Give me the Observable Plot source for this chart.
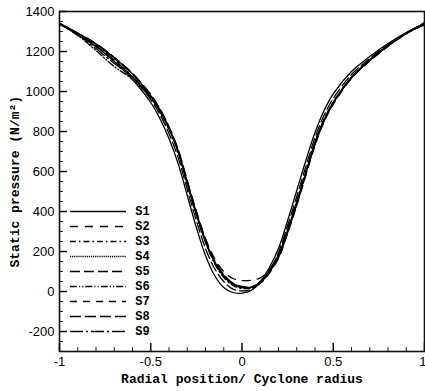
<!DOCTYPE html>
<html><head><meta charset="utf-8">
<script src="https://cdn.jsdelivr.net/npm/d3@7"></script>
<script src="https://cdn.jsdelivr.net/npm/@observablehq/plot@0.6"></script>
<style>body{margin:0;background:#fff}</style>
</head><body><div id="chart"></div>
<script>
const xs = [-1,-0.9,-0.8,-0.7,-0.6,-0.5,-0.45,-0.4,-0.35,-0.3,-0.25,-0.2,-0.15,-0.1,-0.05,0,0.05,0.1,0.15,0.2,0.25,0.3,0.35,0.4,0.45,0.5,0.6,0.7,0.8,0.9,1];
const S1 = [1340,1285,1225,1150,1060,945,865,765,640,480,320,180,80,20,-5,-8,5,50,120,215,355,505,655,795,905,988,1100,1175,1240,1295,1340];
const S2 = [1335,1290,1240,1170,1090,980,910,820,705,550,400,265,165,100,65,55,56,68,110,185,310,450,600,745,860,945,1070,1155,1228,1290,1345];
const S3 = [1340,1285,1225,1150,1075,970,900,810,695,535,380,245,140,70,30,15,18,45,100,182,312,452,600,748,862,948,1072,1158,1228,1290,1338];
const S4 = [1342,1292,1238,1168,1088,978,908,818,705,545,390,255,148,78,38,20,22,48,102,178,305,445,595,745,860,945,1072,1158,1230,1292,1342];
const S5 = [1340,1288,1230,1158,1072,960,885,790,670,510,355,215,115,50,12,3,10,42,105,195,330,475,625,770,882,965,1085,1165,1235,1292,1340];
const S6 = [1338,1280,1205,1125,1060,968,900,812,698,540,385,250,145,76,36,20,22,46,98,175,300,440,590,740,855,942,1068,1155,1228,1290,1332];
const S7 = [1340,1290,1235,1165,1085,978,908,818,702,545,392,255,150,80,40,22,20,40,92,165,290,430,580,730,848,935,1065,1152,1225,1288,1340];
const S8 = [1340,1292,1238,1170,1090,985,915,825,712,555,400,262,155,85,42,25,22,42,95,170,295,435,585,735,852,940,1068,1155,1228,1290,1338];
const S9 = [1338,1285,1215,1140,1070,972,902,814,700,542,388,252,147,77,37,19,21,44,97,172,298,440,590,740,856,944,1070,1156,1229,1291,1336];
const seriesNames = ["S1","S2","S3","S4","S5","S6","S7","S8","S9"];
const seriesValues = [S1,S2,S3,S4,S5,S6,S7,S8,S9];
const xTicks = [-1,-0.5,0,0.5,1];
const yTicks = [-200,0,200,400,600,800,1000,1200,1400];
const xTitle = "Radial position/ Cyclone radius";
const yTitle = "Static pressure (N/m\u00b2)";

// styles
const dashes = [null,"8,7","6,3,1.5,3","1.2,0.9","10,4","7,2,1.2,2,1.2,2","7,6","11,4","13,3,2,3"];
const W=425,H=391,mL=59,mR=1,mT=11,mB=40;
const plotW=W-mL-mR, plotH=H-mT-mB;
const yMinor = d3.range(-300,1401,50).filter(v=>v%200!==0);
const xMinor = d3.range(-10,11).map(i=>i/10).filter(v=>Math.abs(v*2-Math.round(v*2))>1e-9);
const mono = "Liberation Mono, Courier New, monospace";
const sans = "Liberation Sans, Arial, sans-serif";

const marks = [];
// ticks inward
marks.push(Plot.ruleY(yMinor,{y:d=>d,insetRight:plotW-4,stroke:"#222",strokeWidth:1}));
marks.push(Plot.ruleY(yTicks,{y:d=>d,insetRight:plotW-8,stroke:"#111",strokeWidth:1.5}));
marks.push(Plot.ruleX(xMinor,{x:d=>d,insetTop:plotH-4,stroke:"#222",strokeWidth:1}));
marks.push(Plot.ruleX(xTicks,{x:d=>d,insetTop:plotH-8,stroke:"#111",strokeWidth:1.5}));
// curves
seriesNames.forEach((name,i)=>{
  const data = xs.map((x,j)=>({x, y: seriesValues[i][j]}));
  marks.push(Plot.line(data,{x:"x",y:"y",curve:"catmull-rom",stroke:"#000",strokeWidth:1.3,strokeDasharray:dashes[i],clip:true}));
});
// legend
const legTop=400, legStep=75;
seriesNames.forEach((name,i)=>{
  const ly = legTop - legStep*i;
  marks.push(Plot.ruleY([ly],{y:d=>d,x1:-0.94,x2:-0.633,stroke:"#000",strokeWidth:1.4,strokeDasharray:dashes[i]}));
  marks.push(Plot.text([name],{x:-0.585,y:ly,text:d=>d,textAnchor:"start",fontFamily:mono,fontWeight:"bold",fontSize:12,fill:"#000"}));
});
marks.push(Plot.frame({stroke:"#111",strokeWidth:1.6}));
marks.push(Plot.axisX({ticks:xTicks.slice(0,-1),tickSize:0,tickPadding:5,tickFormat:d=>String(d),fontSize:13,fontFamily:sans,fill:"#000"}));
marks.push(Plot.axisX({ticks:xTicks.slice(-1),tickSize:0,tickPadding:5,tickFormat:d=>String(d),textAnchor:"end",dx:2,fontSize:13,fontFamily:sans,fill:"#000",label:null}));
marks.push(Plot.axisY({ticks:yTicks,tickSize:0,tickPadding:5,tickFormat:d=>String(d),fontSize:13,fontFamily:sans,fill:"#000",label:null}));
marks.push(Plot.text([xTitle],{x:0,y:-300,dy:27,lineAnchor:"middle",textAnchor:"middle",text:d=>d,fontFamily:mono,fontWeight:"bold",fontSize:13,fill:"#000"}));
marks.push(Plot.text([yTitle],{x:-1,y:120,dx:-45,rotate:-90,textAnchor:"start",lineAnchor:"middle",text:d=>d,fontFamily:mono,fontWeight:"bold",fontSize:13,fill:"#000"}));

const chart = Plot.plot({
  width:W,height:H,marginLeft:mL,marginRight:mR,marginTop:mT,marginBottom:mB,
  x:{domain:[-1,1],label:null},
  y:{domain:[-300,1400],label:null},
  style:{background:"#fff",fontFamily:sans,fontSize:"13px",color:"#000"},
  marks
});
document.getElementById("chart").appendChild(chart);
</script>
</body></html>
